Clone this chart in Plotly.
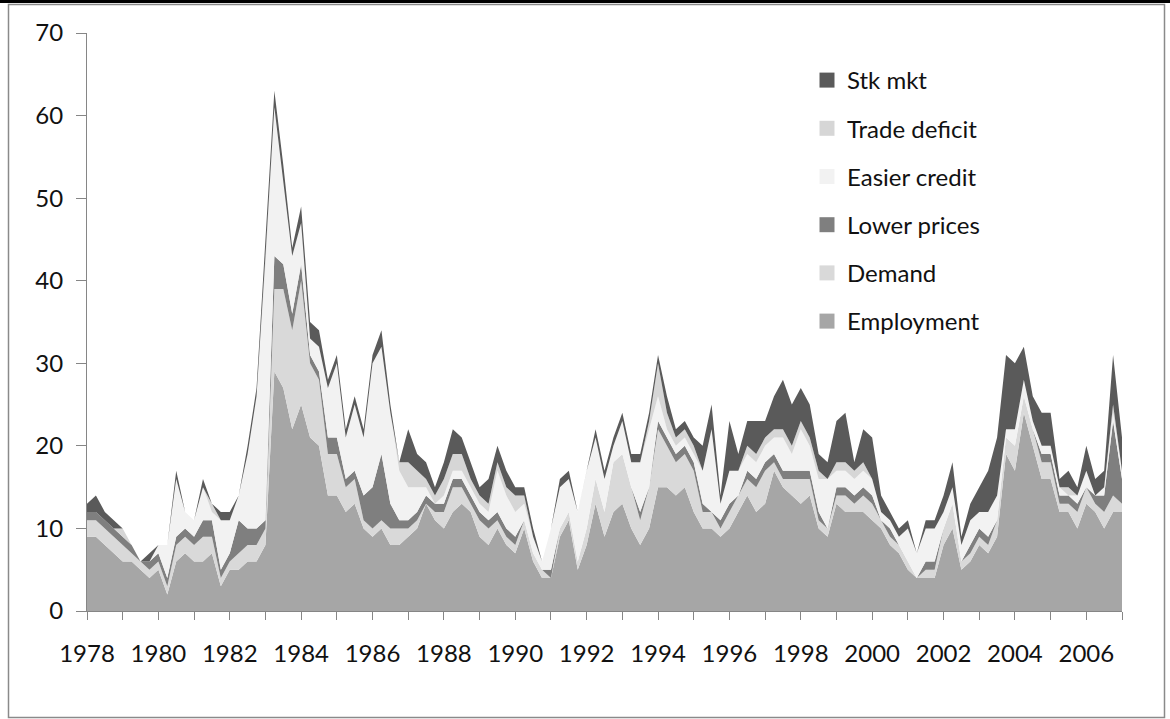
import plotly.graph_objects as go

# ---------------- data (quarterly, 1978Q1 .. 2007Q1) ----------------
start_year = 1978
n_quarters = 117
quarters = [f"{start_year + i // 4}Q{i % 4 + 1}" for i in range(n_quarters)]

employment = [9, 9, 8, 7, 6, 6, 5, 4, 5, 2,
              6, 7, 6, 6, 7, 3, 5, 5, 6, 6,
              8, 29, 27, 22, 25, 21, 20, 14, 14, 12,
              13, 10, 9, 10, 8, 8, 9, 10, 13, 11,
              10, 12, 13, 12, 9, 8, 10, 8, 7, 10,
              6, 4, 4, 9, 11, 5, 8, 13, 9, 12,
              13, 10, 8, 10, 15, 15, 14, 15, 12, 10,
              10, 9, 10, 12, 14, 12, 13, 17, 15, 14,
              13, 14, 10, 9, 13, 12, 12, 12, 11, 10,
              8, 7, 5, 4, 4, 4, 8, 10, 5, 6,
              8, 7, 9, 19, 17, 24, 20, 16, 16, 12,
              12, 10, 13, 12, 10, 12, 12]

demand = [2, 2, 2, 2, 2, 1, 1, 1, 1, 1,
          2, 2, 2, 3, 2, 1, 1, 2, 2, 2,
          2, 10, 12, 12, 15, 9, 8, 5, 5, 3,
          3, 1, 1, 1, 2, 2, 1, 1, 0, 1,
          2, 3, 2, 1, 2, 2, 1, 1, 1, 1,
          1, 1, 0, 1, 1, 1, 2, 3, 3, 6,
          6, 5, 3, 5, 7, 5, 4, 4, 5, 2,
          2, 1, 2, 2, 2, 3, 4, 1, 1, 2,
          3, 2, 1, 1, 1, 2, 1, 2, 2, 1,
          1, 1, 1, 0, 1, 1, 2, 3, 1, 1,
          1, 1, 2, 2, 3, 2, 2, 2, 2, 1,
          1, 2, 2, 1, 2, 2, 1]

lower_prices = [1, 1, 1, 1, 1, 1, 0, 1, 1, 1,
                1, 1, 1, 2, 2, 1, 1, 4, 2, 2,
                1, 4, 3, 2, 2, 1, 1, 2, 2, 1,
                1, 3, 5, 8, 3, 1, 1, 1, 1, 1,
                1, 1, 1, 1, 1, 1, 1, 1, 1, 0,
                0, 0, 1, 0, 0, 0, 0, 0, 0, 0,
                0, 0, 1, 0, 1, 1, 1, 1, 1, 1,
                0, 1, 1, 0, 1, 1, 1, 1, 1, 1,
                1, 1, 1, 0, 1, 1, 1, 1, 1, 0,
                1, 0, 0, 0, 1, 1, 0, 0, 0, 1,
                1, 1, 0, 0, 0, 0, 0, 1, 1, 1,
                1, 1, 0, 1, 2, 9, 3]

easier_credit = [0, 0, 0, 0, 0, 0, 0, 0, 1, 4,
                 7, 2, 2, 4, 1, 6, 4, 3, 9, 16,
                 31, 18, 10, 7, 5, 2, 3, 6, 9, 5,
                 8, 7, 15, 13, 11, 6, 4, 3, 1, 0,
                 1, 1, 1, 1, 1, 1, 5, 4, 3, 2,
                 2, 1, 5, 5, 4, 6, 7, 5, 4, 2,
                 4, 3, 6, 7, 3, 1, 1, 1, 1, 4,
                 10, 2, 4, 3, 2, 2, 2, 2, 4, 2,
                 5, 3, 4, 6, 2, 2, 2, 2, 2, 1,
                 1, 1, 4, 3, 4, 4, 2, 2, 2, 3,
                 2, 3, 3, 1, 2, 2, 1, 1, 1, 1,
                 0, 1, 2, 0, 1, 1, 1]

trade_deficit = [0, 0, 0, 0, 1, 0, 0, 0, 0, 0,
                 0, 0, 0, 0, 1, 0, 0, 0, 0, 0,
                 1, 0, 0, 0, 0, 0, 0, 0, 0, 0,
                 0, 0, 0, 0, 0, 1, 3, 2, 1, 1,
                 2, 2, 2, 1, 1, 1, 1, 1, 2, 1,
                 0, 0, 0, 0, 0, 0, 0, 0, 0, 0,
                 0, 0, 0, 1, 4, 2, 1, 1, 1, 0,
                 0, 0, 0, 0, 1, 1, 1, 1, 1, 1,
                 1, 1, 1, 0, 1, 1, 1, 1, 0, 0,
                 0, 0, 0, 0, 0, 0, 0, 0, 0, 0,
                 0, 0, 0, 0, 0, 0, 0, 0, 0, 0,
                 1, 0, 0, 0, 0, 1, 0]

stk_mkt = [1, 2, 1, 1, 0, 0, 0, 1, 0, 0,
           1, 0, 0, 1, 0, 1, 1, 0, 1, 1,
           2, 2, 2, 1, 2, 2, 2, 1, 1, 1,
           1, 1, 1, 2, 1, 0, 4, 2, 2, 1,
           2, 3, 2, 2, 1, 3, 2, 2, 1, 1,
           1, 0, 0, 1, 1, 0, 0, 1, 1, 1,
           1, 1, 1, 1, 1, 2, 1, 1, 1, 3,
           3, 1, 6, 2, 3, 4, 2, 4, 6, 5,
           4, 4, 2, 2, 5, 6, 1, 4, 5, 2,
           1, 1, 1, 0, 1, 1, 2, 3, 1, 2,
           3, 5, 7, 9, 8, 4, 3, 4, 4, 1,
           2, 1, 3, 2, 2, 6, 4]

series_names = ["Employment", "Demand", "Lower prices",
                "Easier credit", "Trade deficit", "Stk mkt"]
series_values = [employment, demand, lower_prices,
                 easier_credit, trade_deficit, stk_mkt]
series_colors = ["#a6a6a6", "#d9d9d9", "#7f7f7f",
                 "#f2f2f2", "#d6d6d6", "#5a5a5a"]

tick_years = list(range(1978, 2008))
tick_text = [str(y) if y % 2 == 0 else "" for y in tick_years]

# x position of each quarter on a numeric year axis
x_pos = [int(q[:4]) + (int(q[-1]) - 1) / 4 for q in quarters]

FONT = "Lato, 'Open Sans', sans-serif"

fig = go.Figure()
for name, vals, col in zip(series_names, series_values, series_colors):
    fig.add_trace(go.Scatter(
        x=x_pos, y=vals, name=name, stackgroup="one", mode="lines",
        line=dict(width=0, color=col), fillcolor=col,
        showlegend=False, hoverinfo="x+y+name"))

# legend entries with square swatches (top of stack listed first)
legend_order = list(zip(series_names, series_colors))[::-1]
for i, (name, col) in enumerate(legend_order):
    fig.add_trace(go.Scatter(
        x=[None], y=[None], name=name, mode="markers",
        marker=dict(symbol="square", size=15, color=col),
        legendgroup=f"g{i}", legendrank=i + 1, showlegend=True))

W, H = 1170, 719
L, R, T, B = 87, 48, 33, 108
pw, ph = W - L - R, H - T - B


def px_x(px):
    return (px - L) / pw


def px_y(py):
    return (H - B - py) / ph


fig.update_layout(
    width=W, height=H, autosize=False,
    margin=dict(l=L, r=R, t=T, b=B),
    paper_bgcolor="white", plot_bgcolor="white",
    font=dict(family=FONT, size=24, color="#111111"),
    showlegend=True,
    legend=dict(
        x=px_x(807), y=px_y(58), xanchor="left", yanchor="top",
        traceorder="grouped", tracegroupgap=14,
        bgcolor="rgba(0,0,0,0)", borderwidth=0,
        font=dict(family=FONT, size=24, color="#111111"),
        itemwidth=30,
    ),
    xaxis=dict(
        range=[1978, 2007], tickmode="array",
        tickvals=tick_years, ticktext=tick_text,
        showgrid=False, zeroline=False,
        showline=True, linecolor="#868686", linewidth=1,
        ticks="outside", ticklen=8, tickcolor="#868686", tickwidth=1,
        tickfont=dict(family=FONT, size=24, color="#111111"),
        ticklabelstandoff=13,
    ),
    yaxis=dict(
        range=[0, 70], tickmode="linear", tick0=0, dtick=10,
        showgrid=False, zeroline=False,
        showline=True, linecolor="#868686", linewidth=1,
        ticks="outside", ticklen=10, tickcolor="#868686", tickwidth=1,
        tickfont=dict(family=FONT, size=24, color="#111111"),
        ticklabelstandoff=8,
    ),
    shapes=[
        dict(type="rect", xref="paper", yref="paper",
             x0=px_x(8.5), x1=px_x(1164.5), y0=px_y(717.5), y1=px_y(4.5),
             line=dict(color="#8a8a8a", width=1.5), fillcolor="rgba(0,0,0,0)",
             layer="below"),
        dict(type="line", xref="paper", yref="paper",
             x0=px_x(0), x1=px_x(1170), y0=px_y(1.5), y1=px_y(1.5),
             line=dict(color="#000000", width=3)),
    ],
)

fig.write_html(
    "out.html",
    config={"displayModeBar": False},
    post_script="document.body.style.margin='0';document.body.style.padding='0';",
)
